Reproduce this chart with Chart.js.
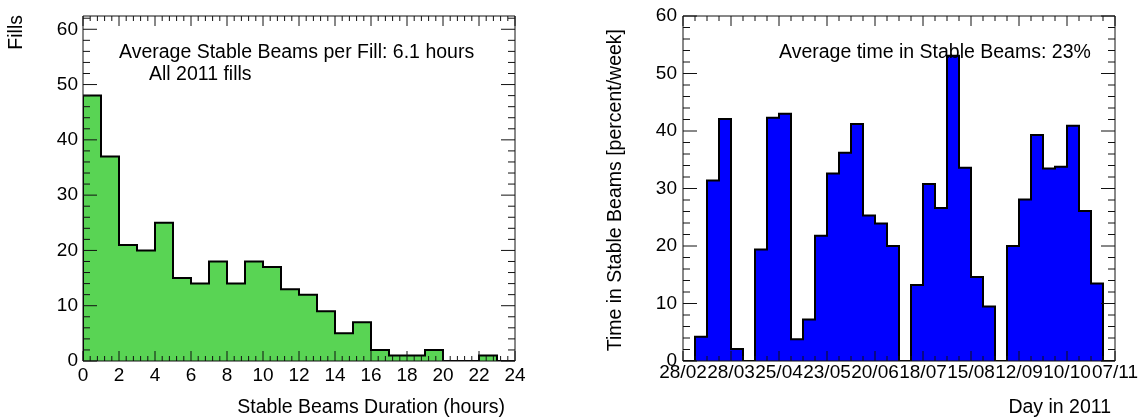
<!DOCTYPE html>
<html>
<head>
<meta charset="utf-8">
<script src="https://cdn.jsdelivr.net/npm/chart.js@4.4.1/dist/chart.umd.min.js"></script>
<style>
body { margin: 0; background: #fff; }
canvas { position: absolute; top: 0; }
</style>
</head>
<body>
<canvas id="durationChart" width="569" height="419" style="left:0px"></canvas>
<canvas id="weeklyChart" width="569" height="419" style="left:569px"></canvas>
<script>
// fills per one-hour bin of stable beams duration (0..24 h)
var durationFills = [48, 37, 21, 20, 25, 15, 14, 18, 14, 18, 17, 13, 12, 9, 5, 7, 2, 1, 1, 2, 0, 0, 1, 0];
var durationXTicks = [0, 2, 4, 6, 8, 10, 12, 14, 16, 18, 20, 22, 24];
var durationYTicks = [0, 10, 20, 30, 40, 50, 60];

// percent of each week spent in stable beams, 36 weeks from 28/02/2011
var weeklyPercent = [0, 4.2, 31.4, 42.1, 2.1, 0, 19.4, 42.3, 43.0, 3.8, 7.2, 21.8,
	32.6, 36.2, 41.2, 25.3, 23.9, 20.0, 0, 13.2, 30.8, 26.6, 53.1, 33.6,
	14.6, 9.5, 0, 20.0, 28.1, 39.3, 33.5, 33.8, 40.9, 26.1, 13.5, 0];
var weeklyDateLabels = ['28/02', '28/03', '25/04', '23/05', '20/06', '18/07', '15/08', '12/09', '10/10', '07/11'];
var weeklyYTicks = [0, 10, 20, 30, 40, 50, 60];

var FONT = "'Liberation Sans', Arial, Helvetica, sans-serif";
Chart.defaults.font.family = FONT;
Chart.defaults.color = '#000';

// step outline points for a histogram (stepped line goes horizontal first)
function histPoints(values, width) {
	var pts = [{x: 0, y: 0}];
	values.forEach(function(v, i) { pts.push({x: i * width, y: v}); });
	pts.push({x: values.length * width, y: values[values.length - 1]});
	pts.push({x: values.length * width, y: 0});
	return pts;
}

// frame with inward ticks on all four sides, plus free text
var rootFrame = {
	id: 'rootFrame',
	afterDatasetsDraw(chart, args, opts) {
		const ctx = chart.ctx, a = chart.chartArea, x = chart.scales.x, y = chart.scales.y;
		ctx.save();
		ctx.strokeStyle = '#111';
		ctx.lineWidth = 1;
		ctx.beginPath();
		var nx = Math.round((x.max - x.min) / opts.xMinor);
		for (var i = 0; i <= nx; i++) {
			var px = x.getPixelForValue(x.min + i * opts.xMinor);
			var len = (i % opts.xRatio === 0) ? 10 : 5;
			ctx.moveTo(px, a.bottom); ctx.lineTo(px, a.bottom - len);
			ctx.moveTo(px, a.top); ctx.lineTo(px, a.top + len);
		}
		var ny = Math.floor((y.max - y.min) / opts.yMinor + 1e-6);
		for (var j = 0; j <= ny; j++) {
			var py = y.getPixelForValue(y.min + j * opts.yMinor);
			var ylen = (j % opts.yRatio === 0) ? 14 : 7;
			ctx.moveTo(a.left, py); ctx.lineTo(a.left + ylen, py);
			ctx.moveTo(a.right, py); ctx.lineTo(a.right - ylen, py);
		}
		ctx.rect(a.left, a.top, a.right - a.left, a.bottom - a.top);
		ctx.stroke();
		ctx.restore();
	},
	afterDraw(chart, args, opts) {
		const ctx = chart.ctx;
		ctx.save();
		ctx.fillStyle = '#000';
		ctx.font = '19.5px ' + FONT;
		ctx.textBaseline = 'alphabetic';
		(opts.texts || []).forEach(function(t) {
			ctx.save();
			ctx.translate(t.x, t.y);
			if (t.rotate) ctx.rotate(-Math.PI / 2);
			ctx.textAlign = t.align || 'left';
			ctx.fillText(t.text, 0, 0);
			ctx.restore();
		});
		ctx.restore();
	}
};

function axisX(min, max, ticks, fit, pad, cb) {
	return {
		type: 'linear', min: min, max: max,
		grid: {display: false, drawTicks: false}, border: {display: false},
		afterBuildTicks: function(s) { s.ticks = ticks.map(function(v) { return {value: v}; }); },
		afterFit: function(s) { s.height = fit; s.paddingLeft = 0; s.paddingRight = 0; },
		ticks: {autoSkip: false, maxRotation: 0, minRotation: 0, padding: pad, font: {size: 19}, color: '#000', callback: cb}
	};
}
function axisY(max, ticks, fit, pad) {
	return {
		min: 0, max: max,
		grid: {display: false, drawTicks: false}, border: {display: false},
		afterBuildTicks: function(s) { s.ticks = ticks.map(function(v) { return {value: v}; }); },
		afterFit: function(s) { s.width = fit; s.paddingTop = 0; s.paddingBottom = 0; },
		ticks: {padding: pad, font: {size: 19}, color: '#000'}
	};
}

var ctx = document.getElementById('durationChart').getContext('2d');
var durationChart = new Chart(ctx, {
	type: 'line',
	data: {
		datasets: [{
			data: histPoints(durationFills, 1),
			stepped: true,
			fill: 'origin',
			backgroundColor: 'rgb(89, 212, 84)',
			borderColor: '#000',
			borderWidth: 2,
			pointRadius: 0
		}]
	},
	options: {
		responsive: false, animation: false,
		layout: {padding: {left: 0, top: 16, right: 54, bottom: 0}},
		plugins: {
			legend: {display: false}, tooltip: {enabled: false},
			rootFrame: {
				xMinor: 0.4, xRatio: 5, yMinor: 2, yRatio: 5,
				texts: [
					{text: 'Average Stable Beams per Fill: 6.1 hours', x: 119, y: 58},
					{text: 'All 2011 fills', x: 149, y: 80},
					{text: 'Fills', x: 22, y: 15, rotate: true, align: 'right'},
					{text: 'Stable Beams Duration (hours)', x: 505, y: 413, align: 'right'}
				]
			}
		},
		scales: {
			x: axisX(0, 24, durationXTicks, 58, 3),
			y: axisY(62.4, durationYTicks, 83, 5)
		}
	},
	plugins: [rootFrame]
});

var ctx = document.getElementById('weeklyChart').getContext('2d');
var weeklyChart = new Chart(ctx, {
	type: 'line',
	data: {
		datasets: [{
			data: histPoints(weeklyPercent, 7),
			stepped: true,
			fill: 'origin',
			backgroundColor: '#0000ff',
			borderColor: '#000',
			borderWidth: 2,
			pointRadius: 0
		}]
	},
	options: {
		responsive: false, animation: false,
		layout: {padding: {left: 0, top: 16, right: 23, bottom: 0}},
		plugins: {
			legend: {display: false}, tooltip: {enabled: false},
			rootFrame: {
				xMinor: 7, xRatio: 4, yMinor: 2, yRatio: 5,
				texts: [
					{text: 'Average time in Stable Beams: 23%', x: 210, y: 58},
					{text: 'Time in Stable Beams [percent/week]', x: 52, y: 29, rotate: true, align: 'right'},
					{text: 'Day in 2011', x: 542, y: 413, align: 'right'}
				]
			}
		},
		scales: {
			x: axisX(0, 252, weeklyDateLabels.map(function(d, i) { return i * 28; }), 58, 0,
				function(v) { return weeklyDateLabels[Math.round(v / 28)]; }),
			y: axisY(60, weeklyYTicks, 114, 6)
		}
	},
	plugins: [rootFrame]
});
</script>
</body>
</html>
